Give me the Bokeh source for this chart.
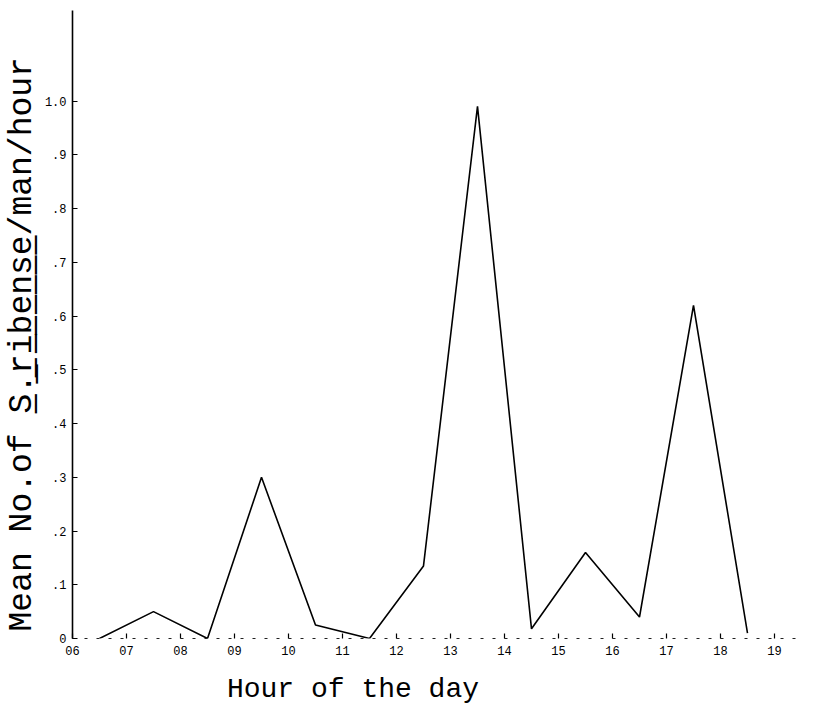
from bokeh.plotting import figure
from bokeh.models import Range1d, FixedTicker
from bokeh.embed import file_html
from bokeh.resources import INLINE

# ---- data ----
hours = [6.5, 7.5, 8.5, 9.5, 10.5, 11.5, 12.5, 13.5, 14.5, 15.5, 16.5, 17.5, 18.5]
mean_count = [0.0, 0.05, 0.0, 0.30, 0.025, 0.0, 0.135, 0.99, 0.018, 0.16, 0.04, 0.62, 0.01]

x_ticks = [6, 7, 8, 9, 10, 11, 12, 13, 14, 15, 16, 17, 18, 19]
x_tick_labels = ["06", "07", "08", "09", "10", "11", "12", "13", "14", "15", "16", "17", "18", "19"]
y_ticks = [0.0, 0.1, 0.2, 0.3, 0.4, 0.5, 0.6, 0.7, 0.8, 0.9, 1.0]
y_tick_labels = ["0", ".1", ".2", ".3", ".4", ".5", ".6", ".7", ".8", ".9", "1.0"]

x_title = "Hour of the day"
y_title_pre = "Mean No.of "
y_title_species = "S.ribense"
y_title_post = "/man/hour"

FONT = "Liberation Mono"
NBSP = "\u00a0"

p = figure(width=815, height=707, output_backend="svg", toolbar_location=None,
           x_range=Range1d(6, 19.5), y_range=Range1d(0, 1.1685),
           min_border_left=72, min_border_right=14, min_border_top=10, min_border_bottom=66)
p.background_fill_color = "white"
p.border_fill_color = "white"
p.outline_line_color = None
p.xgrid.visible = False
p.ygrid.visible = False

p.line(hours, mean_count, line_color="black", line_width=1.6)

# x axis
xa = p.xaxis[0]
xa.ticker = FixedTicker(ticks=x_ticks)
xa.major_label_overrides = {t: l for t, l in zip(x_ticks, x_tick_labels)}
xa.major_tick_in = 5
xa.major_tick_out = 0
xa.minor_tick_line_color = None
xa.axis_line_dash = "3 9"
xa.axis_line_width = 1.2
xa.axis_line_color = "#222222"
xa.major_tick_line_width = 1.2
xa.major_label_text_font = FONT
xa.major_label_text_font_size = "12px"
xa.major_label_text_color = "black"
xa.major_label_standoff = 7
# trailing no-break spaces shift the centred title to the left, as in the reference
xa.axis_label = x_title + NBSP * 10
xa.axis_label_text_font = FONT
xa.axis_label_text_font_size = "28px"
xa.axis_label_text_font_style = "normal"
xa.axis_label_text_color = "black"
xa.axis_label_standoff = 16

# y axis
ya = p.yaxis[0]
ya.ticker = FixedTicker(ticks=y_ticks)
ya.major_label_overrides = {t: l for t, l in zip(y_ticks, y_tick_labels)}
ya.major_tick_in = 5
ya.major_tick_out = 0
ya.minor_tick_line_color = None
ya.axis_line_width = 1.6
ya.axis_line_color = "black"
ya.major_tick_line_width = 1.2
ya.major_label_text_font = FONT
ya.major_label_text_font_size = "12px"
ya.major_label_text_color = "black"
ya.major_label_standoff = 6

underlined = "".join(ch + "\u0332" for ch in y_title_species)
ya.axis_label = y_title_pre + underlined + y_title_post + NBSP * 2
ya.axis_label_text_font = FONT
ya.axis_label_text_font_size = "33px"
ya.axis_label_text_font_style = "normal"
ya.axis_label_text_color = "black"
ya.axis_label_standoff = 1

open("out.html", "w").write(file_html(p, INLINE))
